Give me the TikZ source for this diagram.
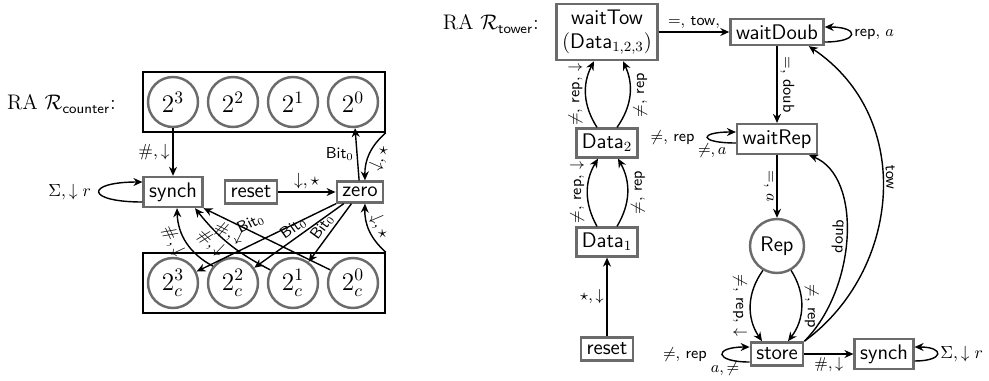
\documentclass[tikz,border=0pt]{standalone}
\usepackage{amsmath,amssymb}
\usetikzlibrary{positioning, arrows.meta, calc}
\definecolor{state-gray}{HTML}{6B6B6B}

\tikzset{
  state/.style={draw=state-gray, line width=1.4pt, rectangle, font=\large\sffamily, inner sep=0.11cm, fill=white},
  bitnode/.style={draw=state-gray, line width=1.4pt, circle, minimum size=1cm, inner sep=0pt, font=\Large},
  regbox/.style={draw, line width=0.9pt, minimum width=4.84cm, minimum height=1.2cm},
  trans/.style={-{Stealth[length=1.8mm,width=1.6mm]}, line width=0.8pt},
  lbl/.style={inner sep=1.5pt},
  slbl/.style={font=\small, inner sep=1.5pt}
}

\begin{document}
\begin{tikzpicture}[x=0.02cm, y=0.02cm]
\useasboundingbox (0,0) rectangle (989,380);

% counter automaton
\node[font=\large, anchor=east] (cnt) at (122,276) {RA $\mathcal{R}_{\textsf{counter}}$:};
\node[regbox] (top) at (264,278) {};
\node[regbox] (bot) at (264,97) {};
\foreach \e [count=\i from 0] in {3,2,1,0} {
  \node[bitnode] (t\e) at (173+60*\i,278) {$2^{\e}$};
  \node[bitnode] (b\e) at (173+60*\i,97) {$2^{\e}_c$};
}
\node[state] (synch) at (173,188) {synch};
\node[state] (reset) at (251,188) {reset};
\node[state] (zero) at (360,188) {zero};

\draw[trans] (t3) -- node[left, lbl] {$\#,\downarrow$} (synch);
\draw[trans] ([yshift=-0.2cm]synch.west) .. controls +(-1.15cm,0) and +(-1.15cm,0) .. node[left=0.1cm, lbl] {$\Sigma,\downarrow r$} ([yshift=0.2cm]synch.west);
\draw[trans] (reset) -- node[above, lbl] {$\downarrow,\star$} (zero);
\draw[trans] (zero) -- node[left, slbl] {\textsf{Bit}$_0$} (t0);
\draw[trans] (top.south east) to[bend right=25] node[below, sloped, lbl] {$\downarrow,\star$} ([xshift=0.1cm]zero.north);
\draw[trans] (bot.north east) to[bend left=25] node[above, sloped, lbl] {$\downarrow,\star$} ([xshift=0.1cm]zero.south);
\draw[trans] (zero) -- node[above=0.2cm, sloped, pos=0.55, slbl] {\textsf{Bit}$_0$} (b3);
\draw[trans] (zero) -- node[above, sloped, slbl] {\textsf{Bit}$_0$} (b2);
\draw[trans] (zero) -- node[above, sloped, slbl] {\textsf{Bit}$_0$} (b1);
\draw[trans] (b2.140) to[bend left=30] node[below, sloped, pos=0.6, lbl] {$\#,\downarrow$} ([xshift=0.08cm]synch.south);
\draw[trans] (b1.150) to[bend left=12] node[below, sloped, pos=0.65, lbl] {$\#,\downarrow$} ([xshift=0.44cm]synch.south);
\draw[trans] (b0.150) -- node[below, sloped, pos=0.76, lbl] {$\#,\downarrow$} (synch.south east);

% tower automaton
\node[font=\large, anchor=east] (twr) at (545,356) {RA $\mathcal{R}_{\textsf{tower}}$:};
\node[state, align=center] (waitTow) at (607,348) {waitTow\\$($Data$_{1,2,3})$};
\node[state] (waitDoub) at (777,348) {waitDoub};
\node[state] (waitRep) at (777,241) {waitRep};
\node[bitnode, minimum size=1.08cm, font=\large\sffamily] (Rep) at (777,134) {Rep};
\node[state] (store) at (777,26) {store};
\node[state] (synchR) at (884,26) {synch};
\node[state] (data2) at (607,237) {Data$_2$};
\node[state] (data1) at (607,138) {Data$_1$};
\node[state] (resetR) at (607,31) {reset};

\draw[trans] (waitTow) -- node[above, slbl] {$=$, \textsf{tow},} (waitDoub);
\draw[trans] ([yshift=-0.2cm]waitDoub.east) .. controls +(0.7cm,0) and +(0.7cm,0) .. node[right, slbl] {\textsf{rep}, $a$} ([yshift=0.1cm]waitDoub.east);
\draw[trans] (waitDoub) -- node[above, sloped, slbl] {$=$, \textsf{doub}} (waitRep);
\draw[trans] ([yshift=-0.08cm]waitRep.west) .. controls +(-0.75cm,0) and +(-0.75cm,0) .. node[left=0.2cm, slbl] {$\neq$, \textsf{rep}} node[below, pos=0.3, slbl] {$\neq, a$} ([yshift=0.14cm]waitRep.west);
\draw[trans] (waitRep) -- node[below, sloped, slbl] {$=$, $a$} (Rep);
\draw[trans] (Rep.240) to[bend right=35] node[rotate=-90, anchor=north, slbl] {$\neq$, \textsf{rep}, $\downarrow$} ([xshift=-0.3cm]store.north);
\draw[trans] (Rep.300) to[bend left=35] node[rotate=-90, anchor=south, slbl] {$\neq$, \textsf{rep}} ([xshift=0.22cm]store.north);
\draw[trans] ([yshift=-0.16cm]store.west) .. controls +(-0.72cm,0) and +(-0.72cm,0) .. node[left=0.25cm, slbl] {$\neq$, \textsf{rep}} node[below, pos=0.35, slbl] {$a, \neq$} ([yshift=0.14cm]store.west);
\draw[trans] (store) -- node[below, slbl] {$\#,\downarrow$} (synchR);
\draw[trans] ([yshift=-0.14cm]synchR.east) .. controls +(0.6cm,0) and +(0.6cm,0) .. node[right, lbl] {$\Sigma,\downarrow r$} ([yshift=0.14cm]synchR.east);
\draw[trans] (store.north east) .. controls +(1.04cm,1.04cm) and +(1.08cm,-0.44cm) .. node[above, sloped, slbl] {\textsf{doub}} ([xshift=-0.18cm]waitRep.south east);
\draw[trans] (store.north east) .. controls +(1.92cm,1.4cm) and +(2.14cm,-1.44cm) .. node[above, sloped, pos=0.55, slbl] {\textsf{tow}} ([xshift=-0.32cm]waitDoub.south east);

\draw[trans] ([xshift=-0.2cm]data1.north) to[bend left=30] node[rotate=90, anchor=south, slbl] {$\neq$, \textsf{rep}, $\downarrow$} ([xshift=-0.18cm]data2.south);
\draw[trans] ([xshift=0.2cm]data1.north) to[bend right=30] node[rotate=90, anchor=north, slbl] {$\neq$, \textsf{rep}} ([xshift=0.22cm]data2.south);
\draw[trans] ([xshift=-0.2cm]data2.north) to[bend left=30] node[rotate=90, anchor=south, slbl] {$\neq$, \textsf{rep}, $\downarrow$} ([xshift=-0.26cm]waitTow.south);
\draw[trans] ([xshift=0.2cm]data2.north) to[bend right=30] node[rotate=90, anchor=north, slbl] {$\neq$, \textsf{rep}} ([xshift=0.32cm]waitTow.south);
\draw[trans] (resetR) -- node[left, slbl] {$\star,\downarrow$} (data1);
\end{tikzpicture}
\end{document}
